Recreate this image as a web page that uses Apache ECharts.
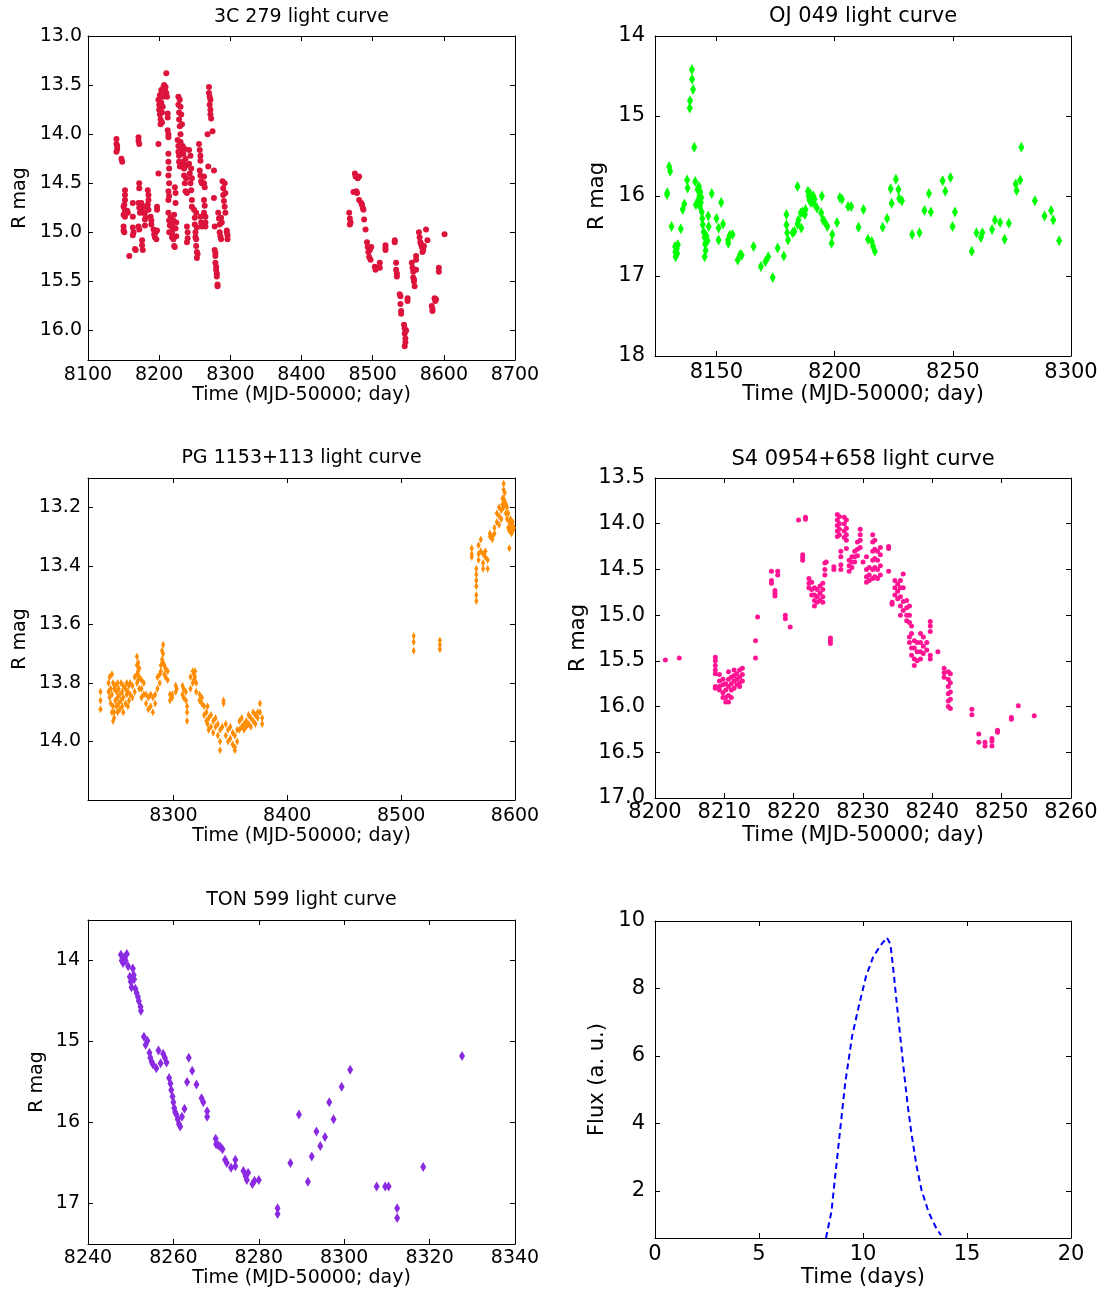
<!DOCTYPE html>
<html>
<head>
<meta charset="utf-8">
<script src="https://cdn.jsdelivr.net/npm/echarts@6/dist/echarts.min.js"></script>
<style>
  html, body { margin: 0; padding: 0; background: #fff; }
  #chart { width: 1105px; height: 1292px; }
</style>
</head>
<body>
<div id="chart"></div>
<script>
var FONT = 'DejaVu Sans';

// 3C 279 light curve [MJD-50000, R mag]
var c279 = [
  [8140,14.05],[8140,14.1],[8141,14.15],[8140,14.18],[8141,14.12],
  [8147,14.25],[8148,14.28],
  [8152,14.57],[8152,14.62],[8152,14.67],[8151,14.72],[8150,14.74],[8152,14.78],[8150,14.82],[8152,14.84],
  [8150,14.94],[8150,14.98],[8151,15.0],[8155,14.78],[8156,14.8],[8158,15.24],
  [8163,14.7],[8163,14.84],[8163,14.95],[8164,15.0],[8163,15.03],[8166,15.17],[8167,15.18],
  [8171,14.03],[8171,14.07],[8172,14.1],[8172,14.5],[8172,14.55],[8171,14.7],[8172,14.75],[8173,14.8],[8171,14.94],[8172,14.97],
  [8175,14.7],[8176,14.75],[8177,14.8],[8176,15.08],[8176,15.13],[8177,15.18],
  [8179,14.74],[8180,14.8],[8181,14.85],[8180,14.87],[8180,14.93],
  [8184,14.57],[8185,14.62],[8185,14.67],[8184,14.72],[8185,14.77],
  [8188,14.84],[8189,14.88],[8189,14.92],
  [8192,14.97],[8193,15.02],[8194,15.05],[8195,15.0],[8196,15.07],[8197,14.98],[8197,14.74],[8197,14.77],
  [8199,14.4],[8199,14.1],
  [8199,13.65],[8200,13.7],[8200,13.75],[8201,13.6],[8201,13.8],[8202,13.85],[8202,13.9],[8203,13.55],[8203,13.68],
  [8204,13.78],[8204,13.88],[8205,13.62],[8205,13.72],[8206,13.52],
  [8207,13.5],[8208,13.55],[8208,13.6],[8209,13.52],[8210,13.38],[8210,13.58],[8211,13.62],
  [8212,13.79],[8212,13.83],[8212,13.96],[8213,14.0],[8213,14.03],
  [8213,14.2],[8213,14.28],[8214,14.35],[8213,14.42],[8214,14.5],[8213,14.58],[8214,14.63],[8213,14.67],
  [8213,14.8],[8214,14.88],[8215,14.93],[8214,15.0],
  [8216,14.85],[8217,14.92],[8218,15.0],[8218,15.05],[8219,14.95],[8220,14.88],[8220,15.07],[8221,14.82],
  [8221,15.14],[8222,15.15],[8223,14.96],[8224,14.9],[8224,15.04],
  [8222,14.54],[8223,14.6],[8223,14.7],
  [8227,13.62],[8227,13.7],[8228,13.78],[8228,13.85],[8229,13.92],[8229,13.65],[8230,13.72],[8230,14.0],
  [8230,14.08],[8231,13.8],[8231,14.15],[8231,14.2],[8232,13.9],[8232,14.3],
  [8226,14.06],[8227,14.12],[8227,14.18],[8228,14.22],[8228,14.28],[8229,14.33],
  [8233,14.12],[8234,14.2],[8234,14.28],[8235,14.35],[8235,14.42],[8236,14.15],[8236,14.5],[8237,14.25],
  [8237,14.58],[8238,14.32],[8238,14.45],[8239,14.6],
  [8239,14.94],[8240,15.0],[8240,15.06],[8239,15.1],
  [8242,14.16],[8242,14.3],[8243,14.4],[8244,14.22],[8244,14.5],[8245,14.35],[8245,14.57],[8246,14.45],[8246,14.67],[8246,14.74],
  [8249,14.77],[8250,14.85],[8250,14.92],[8251,15.0],[8251,15.05],[8252,14.8],[8252,15.07],[8253,14.95],
  [8252,15.14],[8253,15.2],[8253,15.26],[8254,15.22],
  [8256,14.1],[8257,14.16],[8258,14.22],[8258,14.27],[8257,14.37],[8258,14.42],[8259,14.48],[8260,14.5],
  [8258,14.84],[8259,14.9],[8260,14.94],
  [8263,14.43],[8263,14.5],[8264,14.54],[8263,14.67],[8264,14.73],[8263,14.8],
  [8265,14.84],[8265,14.9],[8265,14.94],[8268,14.0],[8269,14.33],
  [8270,13.52],[8270,13.58],[8271,13.62],[8271,13.7],[8272,13.75],[8272,13.8],[8273,13.84],[8272,13.65],
  [8275,13.97],[8277,14.37],[8277,14.65],
  [8278,14.94],[8278,15.18],[8279,15.21],[8279,15.24],
  [8279,15.31],[8280,15.35],[8280,15.38],[8281,15.42],[8281,15.45],[8282,15.55],[8282,15.53],
  [8283,14.8],[8284,14.86],[8285,14.92],[8285,15.0],[8286,15.04],[8287,14.85],[8287,15.07],[8288,14.9],
  [8289,14.48],[8290,14.55],[8290,14.62],[8291,14.68],[8292,14.5],[8292,14.74],[8293,14.8],[8293,14.6],
  [8295,15.0],[8296,15.03],[8296,15.07],[8295,14.98],
  [8467,14.8],[8468,14.86],[8469,14.9],[8468,14.92],[8473,14.59],
  [8475,14.4],[8476,14.43],[8477,14.58],[8478,14.6],[8479,14.45],[8481,14.43],[8481,14.67],
  [8484,14.7],[8485,14.72],[8486,14.75],[8487,14.77],[8488,14.87],[8490,14.97],
  [8492,15.1],[8493,15.15],[8494,15.2],[8495,15.25],[8496,15.18],[8497,15.28],[8498,15.15],
  [8503,15.35],[8504,15.38],[8505,15.36],[8510,15.31],[8510,15.36],
  [8518,15.13],[8518,15.16],[8518,15.18],[8531,15.08],[8531,15.1],
  [8533,15.31],[8533,15.38],[8534,15.42],[8534,15.45],
  [8538,15.63],[8539,15.65],[8539,15.73],[8540,15.8],[8540,15.83],
  [8544,15.94],[8545,15.98],[8545,16.03],[8546,16.08],[8546,16.12],[8545,16.16],[8547,16.0],
  [8549,15.67],[8549,15.7],
  [8555,15.31],[8556,15.36],[8557,15.4],[8557,15.46],[8558,15.5],[8559,15.55],[8558,15.48],
  [8561,15.24],[8561,15.28],[8561,15.38],
  [8565,15.0],[8566,15.05],[8567,15.1],[8568,15.12],[8569,15.15],[8570,15.2],[8571,15.18],[8572,15.14],
  [8575,14.97],[8577,15.08],[8583,15.75],[8584,15.78],[8584,15.8],
  [8587,15.67],[8588,15.7],[8589,15.68],[8593,15.36],[8593,15.4],[8601,15.02]
];

// OJ 049 light curve
var oj049 = [
  [8129.1,15.98],[8129.2,15.96],[8130,15.63],[8130.4,15.69],[8131,16.38],[8132.5,16.63],[8132.6,16.7],[8132.7,16.76],
  [8133.2,16.66],[8133.4,16.72],[8133.7,16.61],[8134.9,16.41],[8135.7,16.17],[8136.4,16.1],[8137.6,15.8],[8137.8,15.9],
  [8138.7,14.9],[8138.8,14.81],[8139.6,14.42],[8139.7,14.54],[8140.1,14.67],[8140.6,15.39],[8141,15.82],[8141.3,16.11],
  [8142,15.92],[8142.3,16.05],[8142.6,15.88],[8142.8,16.0],[8143,16.13],[8143.2,15.95],[8143.4,16.08],[8143.6,16.02],
  [8143.8,16.2],[8144,16.28],[8144.2,16.36],[8144.6,16.45],[8145,16.52],[8145.2,16.6],[8145.4,16.68],[8145,16.76],
  [8145.8,16.5],[8146.2,16.56],[8146.5,16.25],[8146.7,16.38],[8148,15.97],[8150,16.28],[8150.9,16.4],[8150.9,16.55],
  [8152,16.08],[8152.8,16.35],[8154.9,16.55],[8155,16.59],[8155.6,16.49],[8156.8,16.48],[8159,16.8],[8160,16.73],
  [8160.7,16.74],[8165.7,16.63],[8168.8,16.88],[8170.7,16.82],[8171.9,16.76],[8173.8,17.02],[8175.9,16.65],[8178.5,16.75],
  [8179.6,16.23],[8179.6,16.36],[8179.9,16.46],[8180.3,16.55],[8182.2,16.46],[8183,16.44],[8184.3,15.88],[8184.3,16.35],
  [8184.7,16.3],[8185.7,16.21],[8185.9,16.4],[8186.5,16.2],[8187.4,16.23],[8187.7,16.17],[8188.7,15.94],[8189,16.0],
  [8189.3,16.05],[8189.6,15.97],[8190,16.08],[8190.3,16.02],[8190.6,16.06],[8191,16.0],[8191.2,16.09],[8191.5,16.04],
  [8192.5,16.15],[8194.3,16.21],[8194.6,16.0],[8195.1,16.3],[8195.7,16.32],[8196.9,16.38],[8198.7,16.59],[8199,16.48],
  [8201,16.33],[8202.2,16.02],[8203.1,16.04],[8205.7,16.13],[8207,16.13],[8210.1,16.39],[8212.2,16.17],[8214.1,16.54],
  [8215.7,16.57],[8216.3,16.63],[8217,16.69],[8220.3,16.39],[8222.2,16.28],[8223.7,15.91],[8224.1,16.09],[8225.9,15.79],
  [8227,15.92],[8227.3,16.03],[8228.5,16.06],[8232.8,16.48],[8235.9,16.46],[8238,16.18],[8239.9,15.97],[8240.7,16.2],
  [8245.7,15.81],[8246.8,15.94],[8249,15.77],[8249.9,16.38],[8250.9,16.2],[8258,16.69],[8260,16.46],[8261.9,16.52],
  [8262.5,16.46],[8266.6,16.42],[8267.8,16.3],[8270,16.33],[8271.9,16.54],[8273.7,16.34],[8276.6,15.85],[8277,15.93],
  [8278.5,15.8],[8279,15.39],[8284.7,16.06],[8288.8,16.25],[8291.6,16.18],[8292.5,16.3],[8295,16.56]
];

// PG 1153+113: [day, [mags on that day]]
var pg1153 = [
  [8236,[13.83,13.86,13.89]],[8243,[13.8,13.83]],[8244,[13.85,13.78]],[8245,[13.82,13.87]],[8246,[13.77,13.84,13.9]],
  [8247,[13.8,13.88,13.93]],[8248,[13.82,13.9,13.92]],[8249,[13.81,13.86]],[8250,[13.83,13.88]],[8251,[13.8,13.85,13.9]],
  [8252,[13.82,13.87]],[8253,[13.84,13.89]],[8254,[13.8,13.86]],[8255,[13.83,13.88]],[8256,[13.81,13.85,13.9]],
  [8258,[13.82,13.87]],[8259,[13.8,13.84]],[8260,[13.83,13.88]],[8261,[13.81,13.86]],[8262,[13.8,13.84]],
  [8264,[13.81,13.85]],[8266,[13.78,13.83]],[8268,[13.71,13.74,13.77,13.8]],[8269,[13.73,13.76,13.79]],
  [8270,[13.75,13.78,13.82]],[8272,[13.79,13.82,13.85]],[8274,[13.8,13.84]],[8276,[13.84,13.87]],[8278,[13.85,13.89]],
  [8280,[13.84,13.88]],[8282,[13.85,13.9]],[8284,[13.84,13.87]],[8286,[13.78,13.82]],[8288,[13.77,13.8]],
  [8289,[13.74,13.76]],[8290,[13.69,13.72]],[8291,[13.67,13.7,13.73]],[8292,[13.74,13.77]],[8293,[13.75,13.78]],
  [8295,[13.76,13.79]],[8297,[13.84,13.86]],[8299,[13.85,13.84]],[8302,[13.81,13.83]],[8303,[13.82]],
  [8308,[13.81,13.84]],[8309,[13.82,13.85]],[8311,[13.83,13.86]],[8312,[13.88,13.9,13.93]],[8315,[13.78,13.82]],
  [8317,[13.76,13.8]],[8318,[13.77,13.79]],[8319,[13.76,13.78]],[8320,[13.8,13.83]],[8323,[13.84,13.86]],
  [8325,[13.85,13.87]],[8327,[13.88,13.91]],[8329,[13.9,13.93]],[8330,[13.88,13.94]],[8331,[13.92,13.96]],
  [8333,[13.91,13.95]],[8335,[13.93,13.97]],[8337,[13.92,13.95]],[8339,[13.94,13.98]],[8341,[13.96,14.0,14.03]],
  [8343,[13.95]],[8344,[13.86,13.87]],[8346,[13.94,13.98]],[8348,[13.96,14.0]],[8350,[13.95,13.99]],
  [8352,[13.97,14.01]],[8354,[13.98,14.02,14.03]],[8356,[13.96,14.0]],[8358,[13.93,13.96]],[8360,[13.92,13.95]],
  [8362,[13.94,13.96]],[8364,[13.93,13.95]],[8366,[13.91,13.94]],[8368,[13.92,13.95]],[8370,[13.9,13.93]],
  [8372,[13.91,13.94]],[8374,[13.9,13.92]],[8376,[13.87,13.9]],[8378,[13.92,13.94]],
  [8511,[13.64,13.66,13.69]],[8534,[13.655,13.67,13.685]],[8562,[13.34,13.36,13.37]],
  [8566,[13.41,13.43,13.45,13.47,13.5,13.52]],[8568,[13.33,13.36,13.38]],[8570,[13.31,13.35]],
  [8572,[13.36,13.39,13.41]],[8574,[13.35,13.37]],[8576,[13.38,13.41]],[8578,[13.29,13.3]],[8580,[13.3,13.31]],
  [8582,[13.27,13.29]],[8584,[13.22,13.25]],[8586,[13.2,13.23,13.26]],[8588,[13.21,13.24]],[8589,[13.17,13.19]],
  [8590,[13.12,13.14,13.17,13.2]],[8591,[13.15,13.18]],[8592,[13.19,13.22]],[8593,[13.2,13.24]],
  [8594,[13.22,13.27]],[8595,[13.25,13.28,13.34]],[8596,[13.24,13.27]],[8597,[13.26,13.29]],[8598,[13.25,13.28]],
  [8599,[13.27]]
];

// S4 0954+658: [day, [mags]]
var s40954 = [
  [8201.5,[15.49]],[8203.5,[15.47]],[8208.7,[15.46,15.5,15.55,15.6,15.64,15.78,15.8]],[8209.3,[15.65,15.72,15.78,15.82]],
  [8209.8,[15.7,15.76,15.85,15.9]],[8210.2,[15.75,15.82,15.9,15.95]],[8210.6,[15.62,15.7,15.78,15.88,15.95]],
  [8211.0,[15.68,15.75,15.82,15.9]],[8211.4,[15.6,15.66,15.72,15.8]],[8211.8,[15.64,15.7,15.76]],
  [8212.2,[15.6,15.68,15.74,15.78]],[8212.6,[15.58,15.65,15.72]],[8214.5,[15.28,15.47]],[8214.8,[15.02]],
  [8216.8,[14.52,14.62,14.65]],[8217.3,[14.73,14.76,14.79]],[8217.7,[14.52,14.56]],[8218.8,[15.0,15.04]],[8219.5,[15.13]],
  [8220.7,[13.96]],[8221.7,[13.93,13.95]],[8221.3,[14.34,14.37,14.4]],[8222.2,[14.6,14.65,14.7]],
  [8222.6,[14.64,14.72,14.78]],[8223.0,[14.7,14.78,14.84,14.9]],[8223.4,[14.72,14.8,14.86]],[8223.8,[14.68,14.76,14.84]],
  [8224.2,[14.65,14.72,14.8,14.86]],[8224.5,[14.43,14.5,14.56]],[8224.7,[14.42]],[8225.3,[15.25,15.28,15.31]],
  [8225.8,[14.47,14.5]],[8226.3,[13.9,13.96,14.02,14.08,14.14]],[8226.6,[13.92,14.0,14.06,14.12]],
  [8226.8,[14.3,14.36,14.45,14.5]],[8227.3,[13.93,14.0,14.08,14.15]],[8227.6,[13.96,14.05,14.12,14.18,14.27]],
  [8228.0,[14.4,14.46,14.52]],[8228.4,[14.36,14.42,14.48]],[8228.8,[14.3,14.36,14.42]],[8229.2,[14.2,14.28,14.35]],
  [8229.6,[14.06,14.12,14.18,14.26]],[8230.0,[14.42]],[8230.5,[14.36,14.5,14.58,14.64]],[8230.9,[14.48,14.56,14.62]],
  [8231.4,[14.12,14.2,14.3,14.4,14.5,14.6]],[8231.7,[14.18,14.28,14.38,14.48,14.58]],[8232.1,[14.3,14.4,14.5,14.6]],
  [8232.5,[14.26,14.34,14.46,14.56]],[8233.7,[14.25,14.27,14.52]],[8234.2,[14.86,14.88]],[8234.6,[14.62,14.7,14.78]],
  [8235.0,[14.66,14.74,14.82]],[8235.4,[14.62,14.7,14.8,14.9,15.0]],[8235.8,[14.55,14.7,14.85,14.95]],
  [8236.3,[14.84,14.92,15.0,15.06]],[8236.7,[14.9,15.0,15.08,15.24,15.3]],[8237.0,[15.12,15.2,15.36,15.44]],
  [8237.4,[15.28,15.36,15.48,15.55]],[8237.8,[15.3,15.4,15.5]],[8238.3,[15.2,15.3,15.4,15.48]],
  [8238.7,[15.24,15.34,15.42]],[8239.2,[15.3,15.38]],[8239.7,[15.07,15.12,15.18,15.44,15.48]],[8240.8,[15.4]],
  [8241.7,[15.58,15.63,15.68]],[8242.3,[15.62,15.7,15.78,15.86,15.94,16.0]],[8242.6,[15.64,15.74,15.84,15.92,16.02]],
  [8245.7,[16.03,16.09]],[8246.7,[16.3,16.39]],[8247.6,[16.39,16.43]],[8248.6,[16.35,16.38,16.43]],
  [8249.4,[16.26,16.28]],[8251.4,[16.12,16.14]],[8252.4,[15.99]],[8254.7,[16.1]]
];

// TON 599 light curve
var ton599 = [
  [8247.7,13.93],[8247.9,14.0],[8248.2,14.03],[8248.5,13.96],[8248.8,14.0],[8249.1,13.92],[8249.4,14.07],[8249.8,14.2],
  [8250,14.26],[8250.2,14.33],[8250.5,14.1],[8250.7,14.18],[8250.8,14.23],[8251.1,14.35],[8251.4,14.4],[8251.7,14.45],
  [8251.9,14.5],[8252.3,14.57],[8252.4,14.62],[8253.1,14.94],[8253.5,15.04],[8253.9,14.99],[8254.4,15.14],[8254.6,15.2],
  [8254.9,15.25],[8255.2,15.28],[8256,15.33],[8256.5,15.11],[8257,15.27],[8257.6,15.15],[8258,15.2],[8258.4,15.26],
  [8259,15.45],[8259.3,15.52],[8259.5,15.6],[8259.8,15.68],[8260,15.75],[8260.2,15.82],[8260.4,15.87],[8260.7,15.9],
  [8261,15.96],[8261.3,16.02],[8261.6,16.05],[8262,15.93],[8262.6,15.83],[8263.2,15.5],[8263.6,15.2],[8264.4,15.36],
  [8265.4,15.53],[8266.6,15.7],[8267,15.75],[8267.9,15.86],[8267.9,15.93],[8269.9,16.2],[8270,16.27],[8270.5,16.28],
  [8271,16.3],[8271.5,16.33],[8272.1,16.46],[8272.5,16.5],[8273.5,16.56],[8274.5,16.46],[8274.5,16.54],[8276.4,16.6],
  [8276.9,16.66],[8277.2,16.71],[8277.5,16.62],[8278.5,16.76],[8279,16.72],[8280,16.71],[8284.4,17.06],[8284.4,17.13],
  [8287.4,16.5],[8289.4,15.9],[8291.5,16.73],[8292.4,16.42],[8293.5,16.11],[8294.4,16.29],[8295.5,16.18],[8296.5,15.75],
  [8297.5,15.96],[8299.4,15.56],[8301.4,15.35],[8307.6,16.79],[8309.6,16.79],[8310.4,16.79],[8312.4,17.06],[8312.4,17.18],
  [8318.5,16.55],[8327.6,15.18]
];

// model flare
var flareDays = [8.22, 8.48, 8.82, 9.15, 9.48, 9.82, 10.15, 10.48, 10.82, 11.15, 11.32, 11.49, 11.65, 11.82, 11.99, 12.15, 12.32, 12.57, 12.82, 13.15, 13.49, 13.75];
var flareFlux = [0.6, 1.37, 3.34, 5.22, 6.6, 7.53, 8.37, 8.92, 9.26, 9.51, 9.31, 8.37, 7.39, 6.4, 5.41, 4.53, 3.74, 2.75, 2.01, 1.37, 0.93, 0.68];

// tick labels
var ticks1x = [8100, 8200, 8300, 8400, 8500, 8600, 8700];
var ticks1y = [13.0, 13.5, 14.0, 14.5, 15.0, 15.5, 16.0];
var ticks2x = [8150, 8200, 8250, 8300];
var ticks2y = [14, 15, 16, 17, 18];
var ticks3x = [8300, 8400, 8500, 8600];
var ticks3y = [13.2, 13.4, 13.6, 13.8, 14.0];
var ticks4x = [8200, 8210, 8220, 8230, 8240, 8250, 8260];
var ticks4y = [13.5, 14.0, 14.5, 15.0, 15.5, 16.0, 16.5, 17.0];
var ticks5x = [8240, 8260, 8280, 8300, 8320, 8340];
var ticks5y = [14, 15, 16, 17];
var ticks6x = [0, 5, 10, 15, 20];
var ticks6y = [2, 4, 6, 8, 10];

function expand (cols) {
  var out = [];
  cols.forEach(function (c) {
    c[1].forEach(function (y) { out.push([c[0], y]) })
  });
  return out
}

var grids = [
  {left: 88, top: 36, width: 427, height: 324},
  {left: 655, top: 36, width: 416, height: 320},
  {left: 88, top: 478, width: 427, height: 322},
  {left: 655, top: 478, width: 416, height: 320},
  {left: 88, top: 920, width: 427, height: 324},
  {left: 655, top: 921, width: 416, height: 317}
];

var xAxes = [], yAxes = [];
function line () { return {show: true, onZero: false, lineStyle: {color: '#000', width: 1}} }
function tick (vals) { return {show: true, inside: true, length: 5, customValues: vals, lineStyle: {color: '#000', width: 1}} }
function txt (fs) { return {fontSize: fs, color: '#000', fontFamily: FONT} }

function addAxes (g, c) {
  xAxes.push({
    gridIndex: g, type: 'value', position: 'bottom', min: c.xr[0], max: c.xr[1],
    axisLine: line(), axisTick: tick(c.xt), splitLine: {show: false},
    axisLabel: Object.assign(txt(c.fs), {customValues: c.xt, margin: c.xm, formatter: c.xf}),
    name: c.xn, nameLocation: 'middle', nameGap: c.xg, nameTextStyle: txt(c.fs)
  });
  xAxes.push({
    gridIndex: g, type: 'value', position: 'top', min: c.xr[0], max: c.xr[1],
    axisLine: line(), axisTick: tick(c.xt), splitLine: {show: false}, axisLabel: {show: false}
  });
  yAxes.push({
    gridIndex: g, type: 'value', position: 'left', min: c.yr[0], max: c.yr[1], inverse: c.inv,
    axisLine: line(), axisTick: tick(c.yt), splitLine: {show: false},
    axisLabel: Object.assign(txt(c.fs), {customValues: c.yt, margin: c.ym, formatter: c.yf}),
    name: c.yn, nameLocation: 'middle', nameGap: c.yg, nameTextStyle: txt(c.fs)
  });
  yAxes.push({
    gridIndex: g, type: 'value', position: 'right', min: c.yr[0], max: c.yr[1], inverse: c.inv,
    axisLine: line(), axisTick: tick(c.yt), splitLine: {show: false}, axisLabel: {show: false}
  });
}

var f0 = function (v) { return String(Math.round(v)) };
var f1 = function (v) { return v.toFixed(1) };
var TIME = 'Time (MJD-50000; day)';

addAxes(0, {xr: [8100, 8700], yr: [13.0, 16.3], xt: ticks1x, yt: ticks1y, inv: true, fs: 19, xm: 6, ym: 6, xf: f0, yf: f1, xn: TIME, xg: 25, yn: 'R mag', yg: 58});
addAxes(1, {xr: [8124, 8300], yr: [14, 18], xt: ticks2x, yt: ticks2y, inv: true, fs: 21, xm: 6, ym: 10, xf: f0, yf: f0, xn: TIME, xg: 25, yn: 'R mag', yg: 47});
addAxes(2, {xr: [8225, 8600], yr: [13.1, 14.2], xt: ticks3x, yt: ticks3y, inv: true, fs: 19, xm: 7, ym: 7, xf: f0, yf: f1, xn: TIME, xg: 26, yn: 'R mag', yg: 58});
addAxes(3, {xr: [8200, 8260], yr: [13.5, 17.0], xt: ticks4x, yt: ticks4y, inv: true, fs: 21, xm: 4, ym: 10, xf: f0, yf: f1, xn: TIME, xg: 27, yn: 'R mag', yg: 66});
addAxes(4, {xr: [8240, 8340], yr: [13.5, 17.5], xt: ticks5x, yt: ticks5y, inv: true, fs: 19, xm: 5, ym: 8, xf: f0, yf: f0, xn: TIME, xg: 24, yn: 'R mag', yg: 41});
addAxes(5, {xr: [0, 20], yr: [0.6, 10], xt: ticks6x, yt: ticks6y, inv: false, fs: 21, xm: 6, ym: 10, xf: f0, yf: f0, xn: 'Time (days)', xg: 29, yn: 'Flux (a. u.)', yg: 47});

function scatter (g, data, symbol, size, color) {
  return {
    type: 'scatter', xAxisIndex: 2 * g, yAxisIndex: 2 * g, data: data,
    symbol: symbol, symbolSize: size, itemStyle: {color: color, opacity: 1}, silent: true
  }
}

var titles = [
  ['3C 279 light curve', 301.5, 17, 19],
  ['OJ 049 light curve', 863, 17, 21],
  ['PG 1153+113 light curve', 301.5, 458, 19],
  ['S4 0954+658 light curve', 863, 460, 21],
  ['TON 599 light curve', 301.5, 900, 19]
];

var chart = echarts.init(document.getElementById('chart'));
var option = {
  backgroundColor: '#fff',
  animation: false,
  grid: grids,
  xAxis: xAxes,
  yAxis: yAxes,
  graphic: titles.map(function (t) {
    return {
      type: 'text', x: t[1], y: t[2],
      style: {text: t[0], fontSize: t[3], fontFamily: FONT, fill: '#000', textAlign: 'center', textVerticalAlign: 'middle'}
    }
  }),
  series: [
    scatter(0, c279, 'circle', 6, '#DC143C'),
    scatter(1, oj049, 'diamond', [6, 11], '#00FF00'),
    scatter(2, expand(pg1153), 'diamond', [4, 8], '#FF8C00'),
    scatter(3, expand(s40954), 'circle', 5, '#FF1493'),
    scatter(4, ton599, 'diamond', [6, 10], '#8A2BE2'),
    {
      type: 'line', xAxisIndex: 10, yAxisIndex: 10, symbol: 'none', silent: true,
      data: flareDays.map(function (d, i) { return [d, flareFlux[i]] }),
      lineStyle: {color: '#0000FF', width: 2, type: [6, 4]}
    }
  ]
};
option && chart.setOption(option);
</script>
</body>
</html>
